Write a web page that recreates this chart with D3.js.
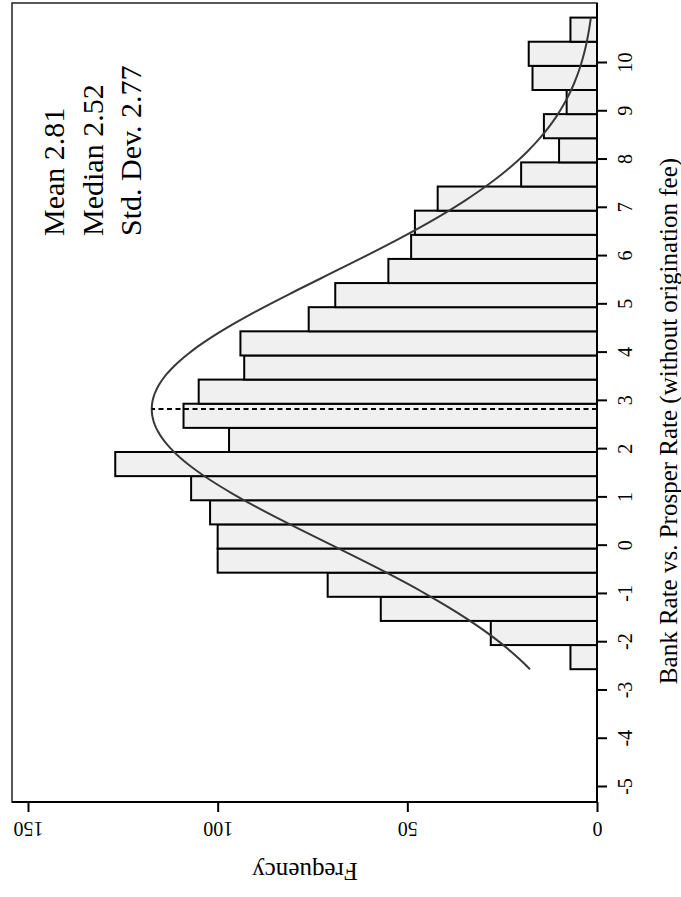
<!DOCTYPE html>
<html>
<head>
<meta charset="utf-8">
<script src="https://cdn.jsdelivr.net/npm/d3@7"></script>
<style>
  body { margin: 0; background: white; }
  text { font-family: "Liberation Serif", "Times New Roman", serif; fill: black; }
</style>
</head>
<body>
<div id="chart"></div>
<script>
// histogram bins (Bank Rate vs. Prosper Rate), bar counts
const binEdges = [-2.58, -2.08, -1.58, -1.08, -0.58, -0.08, 0.42, 0.92, 1.42, 1.92, 2.42, 2.92, 3.42, 3.92,
  4.42, 4.92, 5.42, 5.92, 6.42, 6.92, 7.42, 7.92, 8.42, 8.92, 9.42, 9.92, 10.42, 10.92];
const counts = [7, 28, 57, 71, 100, 100, 102, 107, 127, 97, 109, 105, 93, 94,
  76, 69, 55, 49, 48, 42, 20, 10, 14, 8, 17, 18, 7];

const rateTicks = [-5, -4, -3, -2, -1, 0, 1, 2, 3, 4, 5, 6, 7, 8, 9, 10];
const freqTicks = [0, 50, 100, 150];

const meanRate = 2.81;
const medianRate = 2.52;
const sdRate = 2.77;
const statLines = [`Mean ${meanRate}`, `Median ${medianRate}`, `Std. Dev. ${sdRate}`];

const width = 681, height = 897;

const svg = d3.select('#chart')
  .append('svg')
  .attr('width', width)
  .attr('height', height);

// the plot is drawn turned on its side: rate runs upward, frequency runs leftward
const y = d3.scaleLinear().domain([-5, 10]).range([786, 62]);
const x = d3.scaleLinear().domain([0, 150]).range([597, 28]);

const bins = counts.map((c, i) => ({ x0: binEdges[i], x1: binEdges[i + 1], count: c }));

//bars
svg.append('g')
  .selectAll('rect')
  .data(bins)
  .join('rect')
  .attr('x', d => x(d.count))
  .attr('y', d => y(d.x1))
  .attr('width', d => x(0) - x(d.count))
  .attr('height', d => y(d.x0) - y(d.x1))
  .attr('fill', '#f0f0f0')
  .attr('stroke', 'black')
  .attr('stroke-width', 2);

// fitted normal curve, scaled to counts
const n = d3.sum(counts);
const binWidth = binEdges[1] - binEdges[0];
const density = v => Math.exp(-0.5 * ((v - meanRate) / sdRate) ** 2) / (sdRate * Math.sqrt(2 * Math.PI));
const lo = binEdges[0], hi = binEdges[binEdges.length - 1];
const curvePts = d3.range(0, 201).map(i => {
  const v = lo + (hi - lo) * i / 200;
  return [v, density(v) * n * binWidth];
});

svg.append('path')
  .datum(curvePts)
  .attr('d', d3.line().x(d => x(d[1])).y(d => y(d[0])))
  .attr('fill', 'none')
  .attr('stroke', '#383838')
  .attr('stroke-width', 2);

// mean line
svg.append('line')
  .attr('x1', x(0))
  .attr('x2', x(density(meanRate) * n * binWidth))
  .attr('y1', y(meanRate))
  .attr('y2', y(meanRate))
  .attr('stroke', 'black')
  .attr('stroke-width', 2)
  .attr('stroke-dasharray', '5,3.5');

// box
svg.append('rect')
  .attr('x', 12)
  .attr('y', 3)
  .attr('width', x(0) - 12)
  .attr('height', 802 - 3)
  .attr('fill', 'none')
  .attr('stroke', '#222')
  .attr('stroke-width', 1.5);

const hyphenFmt = d => (d < 0 ? '-' + Math.abs(d) : String(d));

// rate axis on the right
const rateAxis = svg.append('g')
  .attr('transform', `translate(${x(0)},0)`)
  .call(d3.axisRight(y).tickValues(rateTicks).tickSize(10).tickFormat(hyphenFmt));
rateAxis.select('.domain').attr('d', `M0,3V802`).attr('stroke', 'black').attr('stroke-width', 2);
rateAxis.selectAll('.tick line').attr('stroke', 'black').attr('stroke-width', 2);
rateAxis.selectAll('.tick text')
  .attr('x', null).attr('dy', null)
  .attr('transform', 'translate(35,0) rotate(-90)')
  .attr('text-anchor', 'middle')
  .attr('font-size', '20px')
  .attr('font-family', '"Liberation Serif", serif');

// frequency axis at the bottom
const freqAxis = svg.append('g')
  .attr('transform', 'translate(0,802)')
  .call(d3.axisBottom(x).tickValues(freqTicks).tickSize(10));
freqAxis.select('.domain').attr('d', `M12,0H${x(0)}`).attr('stroke', 'black').attr('stroke-width', 2);
freqAxis.selectAll('.tick line').attr('stroke', 'black').attr('stroke-width', 2);
freqAxis.selectAll('.tick text')
  .attr('y', null).attr('dy', null)
  .attr('transform', 'translate(0,27) rotate(180)')
  .attr('text-anchor', 'middle')
  .attr('dominant-baseline', 'central')
  .attr('font-size', '20px')
  .attr('font-family', '"Liberation Serif", serif');

// axis titles
svg.append('text')
  .attr('transform', 'translate(305,871) rotate(180)')
  .attr('text-anchor', 'middle')
  .attr('dominant-baseline', 'central')
  .attr('font-size', '25px')
  .text('Frequency');

svg.append('text')
  .attr('transform', 'translate(668,421) rotate(-90)')
  .attr('text-anchor', 'middle')
  .attr('dominant-baseline', 'central')
  .attr('font-size', '25px')
  .text('Bank Rate vs. Prosper Rate (without origination fee)');

// summary stats
svg.append('g')
  .selectAll('text')
  .data(statLines)
  .join('text')
  .attr('transform', (d, i) => `translate(${64 + i * 38.5},236) rotate(-90)`)
  .attr('font-size', '30px')
  .text(d => d);
</script>
</body>
</html>
